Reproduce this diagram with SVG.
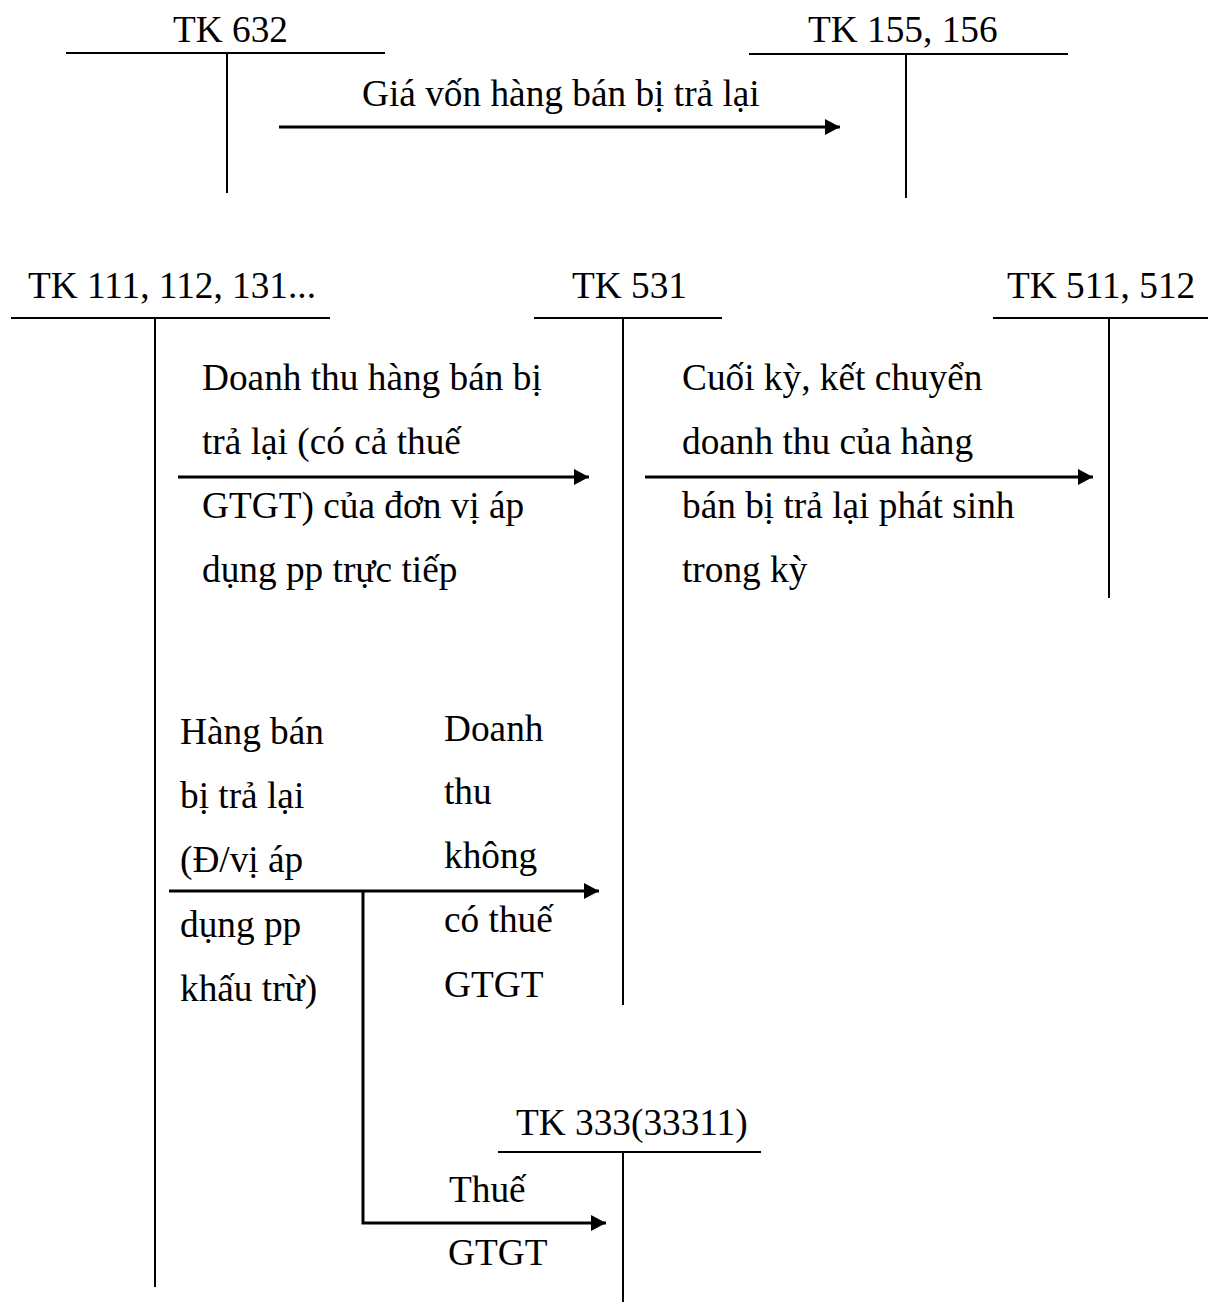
<svg xmlns="http://www.w3.org/2000/svg" width="1208" height="1302" viewBox="0 0 1208 1302">
  <style>
    text { font-family: "Liberation Serif", "Times New Roman", serif; font-size: 37.3px; fill: #000; }
    .t { stroke: #000; stroke-width: 2; fill: none; }
    .flow { stroke: #000; stroke-width: 3; fill: none; }
  </style>
  <defs>
    <marker id="head" markerUnits="userSpaceOnUse" markerWidth="16" markerHeight="16" refX="15" refY="8" orient="auto">
      <polygon points="0,0 15,8 0,16" fill="#000"/>
    </marker>
  </defs>

  <!-- T-accounts -->
  <g id="tk632">
    <text x="173" y="42">TK 632</text>
    <line class="t" x1="66" y1="53" x2="385" y2="53"/>
    <line class="t" x1="227" y1="53" x2="227" y2="193"/>
  </g>
  <g id="tk155">
    <text x="808" y="42">TK 155, 156</text>
    <line class="t" x1="749" y1="54" x2="1068" y2="54"/>
    <line class="t" x1="906" y1="54" x2="906" y2="198"/>
  </g>
  <g id="tk111">
    <text x="28" y="298">TK 111, 112, 131...</text>
    <line class="t" x1="11" y1="318" x2="330" y2="318"/>
    <line class="t" x1="155" y1="318" x2="155" y2="1287"/>
  </g>
  <g id="tk531">
    <text x="572" y="298">TK 531</text>
    <line class="t" x1="534" y1="318" x2="722" y2="318"/>
    <line class="t" x1="623" y1="318" x2="623" y2="1005"/>
  </g>
  <g id="tk511">
    <text x="1007" y="298">TK 511, 512</text>
    <line class="t" x1="993" y1="318" x2="1208" y2="318"/>
    <line class="t" x1="1109" y1="318" x2="1109" y2="598"/>
  </g>
  <g id="tk333">
    <text x="516" y="1135">TK 333(33311)</text>
    <line class="t" x1="498" y1="1152" x2="761" y2="1152"/>
    <line class="t" x1="623" y1="1152" x2="623" y2="1302"/>
  </g>

  <!-- Connectors -->
  <g id="connectors">
    <line class="flow" x1="279" y1="127" x2="840" y2="127" marker-end="url(#head)"/>
    <line class="flow" x1="178" y1="477" x2="589" y2="477" marker-end="url(#head)"/>
    <line class="flow" x1="645" y1="477" x2="1093" y2="477" marker-end="url(#head)"/>
    <line class="flow" x1="169" y1="891" x2="599" y2="891" marker-end="url(#head)"/>
    <path class="flow" d="M363,891 V1223 H606" marker-end="url(#head)"/>
  </g>

  <!-- Entry labels -->
  <g id="labels">
    <text x="362" y="106">Giá vốn hàng bán bị trả lại</text>

    <text x="202" y="390">Doanh thu hàng bán bị</text>
    <text x="202" y="454">trả lại (có cả thuế</text>
    <text x="202" y="518">GTGT) của đơn vị áp</text>
    <text x="202" y="582">dụng pp trực tiếp</text>

    <text x="682" y="390">Cuối kỳ, kết chuyển</text>
    <text x="682" y="454">doanh thu của hàng</text>
    <text x="682" y="518">bán bị trả lại phát sinh</text>
    <text x="682" y="582">trong kỳ</text>

    <text x="180" y="744">Hàng bán</text>
    <text x="180" y="808">bị trả lại</text>
    <text x="180" y="872">(Đ/vị áp</text>
    <text x="180" y="937">dụng pp</text>
    <text x="180" y="1001">khấu trừ)</text>

    <text x="444" y="741">Doanh</text>
    <text x="444" y="804">thu</text>
    <text x="444" y="868">không</text>
    <text x="444" y="932">có thuế</text>
    <text x="444" y="997">GTGT</text>

    <text x="449" y="1202">Thuế</text>
    <text x="448" y="1265">GTGT</text>
  </g>
</svg>
